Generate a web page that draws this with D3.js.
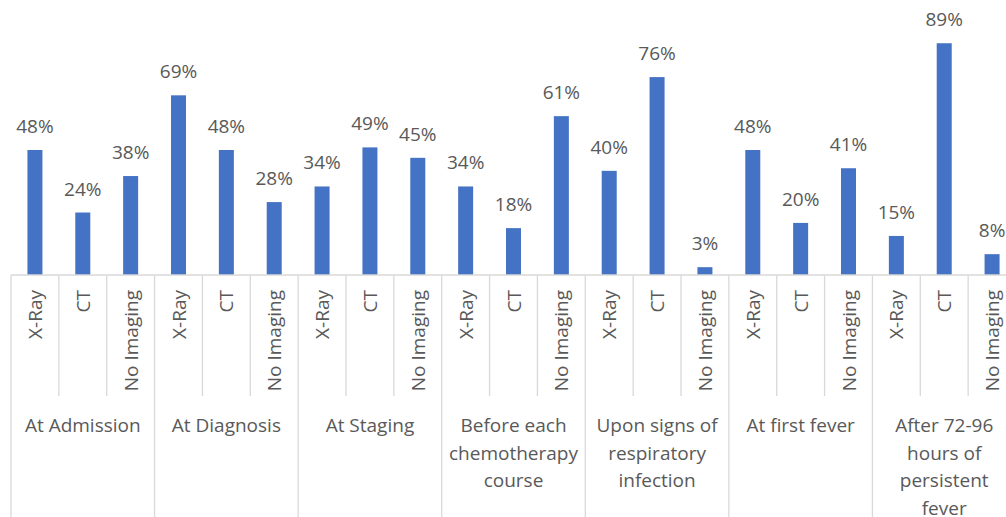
<!DOCTYPE html>
<html>
<head>
<meta charset="utf-8">
<script src="https://cdn.jsdelivr.net/npm/d3@7"></script>
<style>
body{margin:0;background:#fff;}
text{font-family:"Open Sans",sans-serif;fill:#595959;}
</style>
</head>
<body>
<div id="chart"></div>
<script>
var groups=["At Admission","At Diagnosis","At Staging","Before each chemotherapy course","Upon signs of respiratory infection","At first fever","After 72-96 hours of persistent fever"];
var groupLines=[["At Admission"],["At Diagnosis"],["At Staging"],["Before each","chemotherapy","course"],["Upon signs of","respiratory","infection"],["At first fever"],["After 72-96","hours of","persistent","fever"]];
var series=["X-Ray","CT","No Imaging"];
var xray=[48,69,34,34,40,48,15];
var ct=[24,48,49,18,76,20,89];
var noImaging=[38,28,45,61,3,41,8];

var width=1006,height=517;
var baseY=275, topY=14.6;
var left=11, right=1016;
var fs="19px";

var svg=d3.select("#chart").append("svg")
	.attr("width",width)
	.attr("height",height);

var x0=d3.scaleBand().domain(groups).range([left,right]).padding(0);
var x1=d3.scaleBand().domain(series).range([0,x0.bandwidth()]).padding(0);
var y=d3.scaleLinear().domain([0,100]).range([baseY,topY]);

var data=[];
groups.forEach(function(g,i){
	data.push({group:g,name:"X-Ray",value:xray[i]});
	data.push({group:g,name:"CT",value:ct[i]});
	data.push({group:g,name:"No Imaging",value:noImaging[i]});
});

var barW=15;
// bars
svg.selectAll(".bar")
	.data(data)
	.enter()
	.append("rect")
	.attr("class","bar")
	.attr("x",function(d){return x0(d.group)+x1(d.name)+x1.bandwidth()/2-barW/2;})
	.attr("y",function(d){return y(d.value);})
	.attr("width",barW)
	.attr("height",function(d){return baseY-y(d.value);})
	.attr("fill","#4472C4");

// value labels
svg.selectAll(".val")
	.data(data)
	.enter()
	.append("text")
	.attr("class","val")
	.attr("x",function(d){return x0(d.group)+x1(d.name)+x1.bandwidth()/2;})
	.attr("y",function(d){return y(d.value)-17;})
	.attr("text-anchor","middle")
	.style("font-size",fs)
	.text(function(d){return d.value+"%";});

// axis line
svg.append("line")
	.attr("x1",left).attr("x2",right)
	.attr("y1",baseY).attr("y2",baseY)
	.attr("stroke","#d9d9d9").attr("stroke-width",1.3);

// separators
groups.forEach(function(g,i){
	var gx=x0(g);
	svg.append("line")
		.attr("x1",gx).attr("x2",gx)
		.attr("y1",baseY).attr("y2",height)
		.attr("stroke","#d9d9d9").attr("stroke-width",1.3);
	series.forEach(function(s,j){
		if(j==0) return;
		var sx=gx+x1(s);
		svg.append("line")
			.attr("x1",sx).attr("x2",sx)
			.attr("y1",baseY).attr("y2",396)
			.attr("stroke","#d9d9d9").attr("stroke-width",1.3);
	});
});

// category labels (rotated)
svg.selectAll(".cat")
	.data(data)
	.enter()
	.append("text")
	.attr("class","cat")
	.attr("transform",function(d){
		var cx=x0(d.group)+x1(d.name)+x1.bandwidth()/2;
		return "translate("+(cx+7)+",290) rotate(-90)";
	})
	.attr("text-anchor","end")
	.style("font-size",fs)
	.text(function(d){return d.name;});

// group labels
groups.forEach(function(g,i){
	var t=svg.append("text")
		.attr("text-anchor","middle")
		.style("font-size",fs);
	groupLines[i].forEach(function(line,k){
		t.append("tspan")
			.attr("x",x0(g)+x0.bandwidth()/2)
			.attr("y",432+k*27.5)
			.text(line);
	});
});
</script>
</body>
</html>
